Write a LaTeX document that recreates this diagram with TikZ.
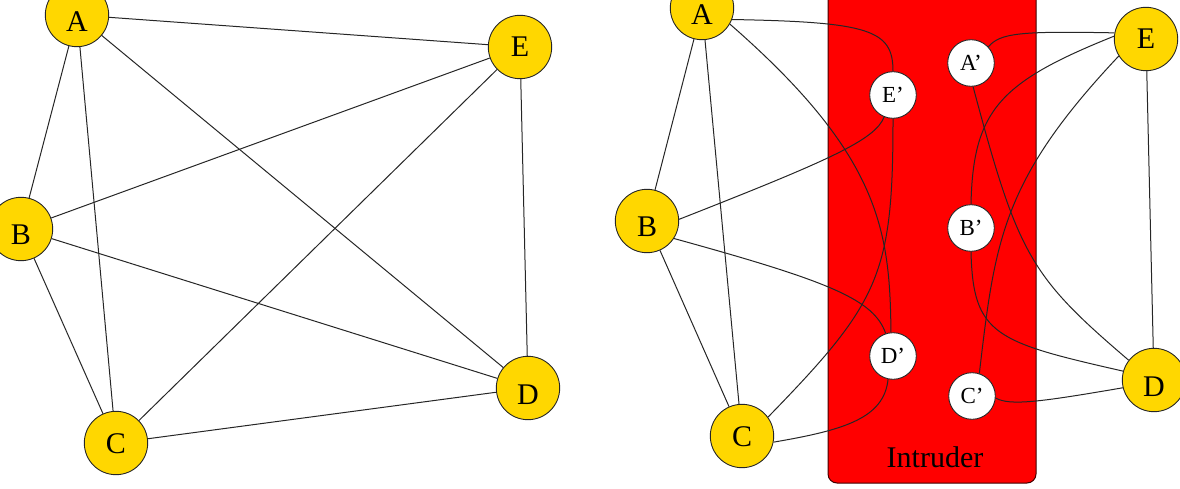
\documentclass[tikz,border=0pt]{standalone}
\usepackage{fontspec}
\setmainfont{Liberation Serif}
\definecolor{nodeyellow}{RGB}{255,215,0}
\definecolor{intrred}{RGB}{255,0,0}
\tikzset{
  host/.style={circle, draw=black!85, fill=nodeyellow, line width=0.9pt, minimum size=63.4pt, inner sep=0pt, font=\fontsize{30}{30}\selectfont},
  fake/.style={circle, draw=black!85, fill=white, line width=0.9pt, minimum size=46.6pt, inner sep=0pt, font=\fontsize{23}{23}\selectfont},
  link/.style={draw=black!85, line width=1pt},
  intruderbox/.style={draw=black!75!red, fill=intrred, rounded corners=9pt, line width=1pt},
  boxlabel/.style={font=\fontsize{30}{30}\selectfont, anchor=base, inner sep=0pt},
}
% label whose baseline lies #1 pt below the node centre
\newcommand{\lowlab}[2]{\raisebox{-#1pt}[0pt][0pt]{#2}}
\begin{document}
\begin{tikzpicture}[x=1pt,y=-1pt]
\useasboundingbox (0,0) rectangle (1180,489);
% intruder box
\draw[intruderbox] (828,-30) rectangle (1036,483);
\node[boxlabel] (intr) at (935,467) {Intruder};
% left graph
\node[host] (A) at (77,15) {\lowlab{17}{A}};
\node[host] (B) at (21,229) {\lowlab{16}{B}};
\node[host] (C) at (116,443) {\lowlab{10}{C}};
\node[host] (D) at (528,388) {\lowlab{16}{D}};
\node[host] (E) at (520,47) {\lowlab{10}{E}};
\draw[link] (A) -- (B);
\draw[link] (A) -- (C);
\draw[link] (A) -- (D);
\draw[link] (A) -- (E);
\draw[link] (B) -- (C);
\draw[link] (B) -- (D);
\draw[link] (B) -- (E);
\draw[link] (C) -- (D);
\draw[link] (C) -- (E);
\draw[link] (E) -- (D);
% right graph
\node[host] (A2) at (702,8) {\lowlab{17}{A}};
\node[host] (B2) at (647,221) {\lowlab{16}{B}};
\node[host] (C2) at (742,436) {\lowlab{10}{C}};
\node[host] (D2) at (1154,380) {\lowlab{16}{D}};
\node[host] (E2) at (1146,39) {\lowlab{10}{E}};
\node[fake] (Ep) at (893,95) {E’};
\node[fake] (Ap) at (971,63) {A’};
\node[fake] (Bp) at (971,228) {B’};
\node[fake] (Dp) at (893,356) {D’};
\node[fake] (Cp) at (972,396) {C’};
\draw[link] (A2) -- (B2);
\draw[link] (A2) -- (C2);
\draw[link] (B2) -- (C2);
\draw[link] (E2) -- (D2);
\draw[link] (A2.-21) .. controls (870,22) and (893,30) .. (Ep.north);
\draw[link] (A2.-30) .. controls (880,155) and (890,230) .. (Dp.95);
\draw[link] (B2.3) .. controls (830,160) and (875,140) .. (Ep.-112);
\draw[link] (B2.-33) .. controls (832,282) and (874,300) .. (Dp.108);
\draw[link] (C2.36) .. controls (880,302) and (893,275) .. (Ep.south);
\draw[link] (C2.-11) .. controls (845,430) and (884,418) .. (Dp.-102);
\draw[link] (E2.169) .. controls (1020,31) and (1000,33) .. (Ap.43);
\draw[link] (E2.175) .. controls (1000,82) and (973,110) .. (Bp.north);
\draw[link] (E2.212) .. controls (1002,180) and (995,240) .. (Cp.72);
\draw[link] (D2.142) .. controls (1030,276) and (1018,255) .. (Ap.-85);
\draw[link] (D2.164) .. controls (995,342) and (973,335) .. (Bp.south);
\draw[link] (D2.194) .. controls (1040,402) and (1010,406) .. (Cp.-5);
\end{tikzpicture}
\end{document}
